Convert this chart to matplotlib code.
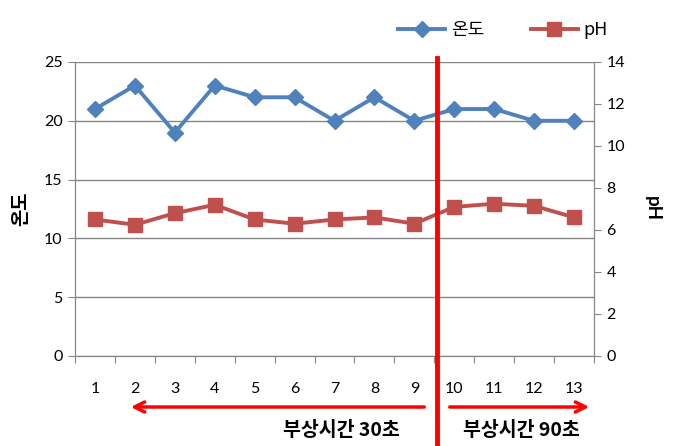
import matplotlib.pyplot as plt

# 데이터
categories = ["1", "2", "3", "4", "5", "6", "7", "8", "9", "10", "11", "12", "13"]
temp = [21, 23, 19, 23, 22, 22, 20, 22, 20, 21, 21, 20, 20]
ph = [6.5, 6.25, 6.8, 7.2, 6.5, 6.3, 6.5, 6.6, 6.3, 7.1, 7.25, 7.15, 6.6]
left_ticks = [0, 5, 10, 15, 20, 25]
right_ticks = [0, 2, 4, 6, 8, 10, 12, 14]

KR = ["Noto Sans CJK KR", "DejaVu Sans"]
NUM = "Lato"
GRAY = "#868686"
BLUE = "#4F81BD"
RED = "#C0504D"

fig = plt.figure(figsize=(6.92, 4.46), dpi=100)
ax = fig.add_axes([0.1084, 0.2018, 0.75, 0.6592])
ax2 = ax.twinx()

x = list(range(1, len(categories) + 1))
l1, = ax.plot(x, temp, color=BLUE, lw=2.8, marker="D", markersize=8, label="온도")
l2, = ax2.plot(x, ph, color=RED, lw=2.8, marker="s", markersize=10, label="pH")

ax.set_xlim(0.5, 13.5)
ax.set_ylim(0, 25)
ax2.set_ylim(0, 14)
ax.set_yticks(left_ticks)
ax2.set_yticks(right_ticks)
ax.yaxis.grid(True, color=GRAY, lw=1)
ax.set_axisbelow(True)

# x축: 눈금은 범주 경계에, 라벨은 가운데
ax.set_xticks([i + 0.5 for i in range(0, 14)])
ax.set_xticklabels([])
ax.set_xticks(x, minor=True)
ax.set_xticklabels(categories, minor=True, fontsize=11.5, family=NUM)
ax.tick_params(axis="x", which="major", length=5, color=GRAY, direction="out")
ax.tick_params(axis="x", which="minor", length=0, pad=19)
ax.tick_params(axis="y", length=5, color=GRAY, labelsize=11.5, pad=4)
ax2.tick_params(axis="y", length=5, color=GRAY, labelsize=11.5, pad=4)
for lab in ax.get_yticklabels() + ax2.get_yticklabels():
    lab.set_family(NUM)

for a in (ax, ax2):
    for s in a.spines.values():
        s.set_color(GRAY)
    a.spines["top"].set_visible(False)

ax.set_ylabel("온도", family=KR, fontsize=13.5, fontweight="bold", labelpad=10)
ax2.set_ylabel("pH", family=NUM, fontsize=13.5, fontweight="bold", rotation=-90, labelpad=26)

# 빨간 구분선
fig.add_artist(plt.Line2D([437 / 692, 437 / 692], [0, 1 - 58 / 446],
                          color="red", lw=3.5, transform=fig.transFigure))

# 화살표
ax.annotate("", xy=(128 / 692, 1 - 407 / 446), xytext=(427 / 692, 1 - 407 / 446),
            xycoords="figure fraction", textcoords="figure fraction",
            arrowprops=dict(arrowstyle="->", color="red", lw=2.5, mutation_scale=18))
ax.annotate("", xy=(592 / 692, 1 - 407 / 446), xytext=(447 / 692, 1 - 407 / 446),
            xycoords="figure fraction", textcoords="figure fraction",
            arrowprops=dict(arrowstyle="->", color="red", lw=2.5, mutation_scale=18))
fig.text(400 / 692, 1 - 430 / 446, "부상시간 30초", family=KR, fontsize=14,
         fontweight="bold", ha="right", va="center")
fig.text(521 / 692, 1 - 430 / 446, "부상시간 90초", family=KR, fontsize=14,
         fontweight="bold", ha="center", va="center")

# 범례
leg = fig.legend([l1, l2], ["온도", "pH"], loc="center", bbox_to_anchor=(503 / 692, 1 - 30 / 446),
                 ncol=2, frameon=False, prop={"family": KR, "size": 13},
                 handlelength=2.6, columnspacing=2.6, handletextpad=0.3)

fig.savefig("out.png", dpi=100)
